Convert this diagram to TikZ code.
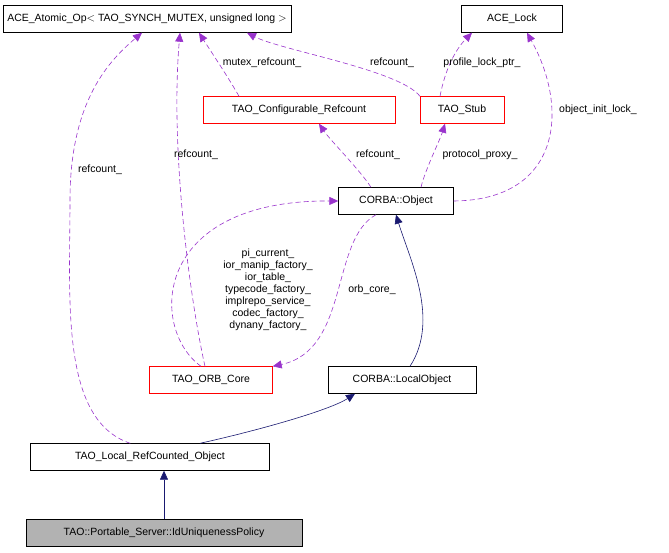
\documentclass[tikz,border=0pt]{standalone}
\usepackage{fontspec}
\setmainfont{Liberation Sans}
\usetikzlibrary{arrows.meta}
\definecolor{dpurple}{RGB}{153,51,204}
\definecolor{dnavy}{RGB}{25,25,112}
\tikzset{
  cls/.style={draw, font=\fontsize{10.5}{12}\selectfont, minimum height=27pt, inner xsep=4pt},
  red cls/.style={cls, draw=red},
  usage/.style={draw=dpurple, line width=0.6pt, dash pattern=on 5pt off 3pt, -{Triangle[length=9pt,width=8pt,fill=dpurple]}},
  inherit/.style={draw=dnavy, line width=0.6pt, -{Triangle[length=9pt,width=8pt,fill=dnavy]}},
  lbl/.style={font=\fontsize{10.5}{12}\selectfont, align=center, inner sep=1pt}
}
\begin{document}
\begin{tikzpicture}[x=1pt, y=-1pt]
	\useasboundingbox (0,0) rectangle (669,552);
	% classes
	\node[cls, minimum width=285pt] (atomic) at (147,19) {ACE\_Atomic\_Op$<$ TAO\_SYNCH\_MUTEX, unsigned long $>$};
	\node[cls, minimum width=101pt] (lock) at (512,19) {ACE\_Lock};
	\node[red cls, minimum width=192pt] (confref) at (299,110) {TAO\_Configurable\_Refcount};
	\node[red cls, minimum width=84pt] (stub) at (462,110) {TAO\_Stub};
	\node[cls, minimum width=115pt] (object) at (396,201) {CORBA::Object};
	\node[red cls, minimum width=123pt] (orbcore) at (211,380) {TAO\_ORB\_Core};
	\node[cls, minimum width=148pt] (localobj) at (402,380) {CORBA::LocalObject};
	\node[cls, minimum width=239pt] (refcounted) at (150,457) {TAO\_Local\_RefCounted\_Object};
	\node[cls, minimum width=276pt, fill=gray!60] (policy) at (164,533) {TAO::Portable\_Server::IdUniquenessPolicy};
	% usage
	\draw[usage] (refcounted.north west) ++(100,0) .. controls (60,420) and (70,300) .. (70,200) .. controls (70,100) and (110,60) .. ([xshift=-5pt]atomic.south);
	\node[lbl] at (100,170) {refcount\_};
	\draw[usage] (orbcore.north) ++(-6,0) .. controls (190,300) and (170,150) .. ([xshift=33pt]atomic.south);
	\node[lbl] at (196,155) {refcount\_};
	\draw[usage] ([xshift=-60pt]confref.north) .. controls (230,80) and (210,50) .. ([xshift=52pt]atomic.south);
	\node[lbl] at (262,63) {mutex\_refcount\_};
	\draw[usage] ([xshift=-42pt]stub.north) .. controls (400,70) and (280,50) .. ([xshift=100pt]atomic.south);
	\node[lbl] at (392,63) {refcount\_};
	\draw[usage] ([xshift=-22pt]stub.north) .. controls (445,70) and (455,50) .. ([xshift=-40pt]lock.south);
	\node[lbl] at (482,63) {profile\_lock\_ptr\_};
	\draw[usage] (object.east) .. controls (560,200) and (570,110) .. ([xshift=15pt]lock.south);
	\node[lbl] at (598,110) {object\_init\_lock\_};
	\draw[usage] ([xshift=-25pt]object.north) .. controls (360,170) and (330,140) .. ([xshift=20pt]confref.south);
	\node[lbl] at (378,155) {refcount\_};
	\draw[usage] ([xshift=25pt]object.north) .. controls (425,170) and (440,140) .. ([xshift=-17pt]stub.south);
	\node[lbl] at (480,155) {protocol\_proxy\_};
	\draw[usage] ([xshift=-10pt]orbcore.north) .. controls (150,330) and (150,200) .. (object.west);
	\node[lbl] at (268,290) {pi\_current\_\\ior\_manip\_factory\_\\ior\_table\_\\typecode\_factory\_\\implrepo\_service\_\\codec\_factory\_\\dynany\_factory\_};
	\draw[usage] ([xshift=-20pt]object.south) .. controls (330,240) and (350,350) .. (orbcore.north east);
	\node[lbl] at (372,290) {orb\_core\_};
	% inheritance
	\draw[inherit] ([xshift=8pt]localobj.north) .. controls (440,320) and (410,260) .. (object.south);
	\draw[inherit] ([xshift=50pt]refcounted.north) .. controls (260,430) and (330,410) .. ([xshift=-47pt]localobj.south);
	\draw[inherit] (policy.north) -- (policy.north |- refcounted.south);
\end{tikzpicture}
\end{document}
